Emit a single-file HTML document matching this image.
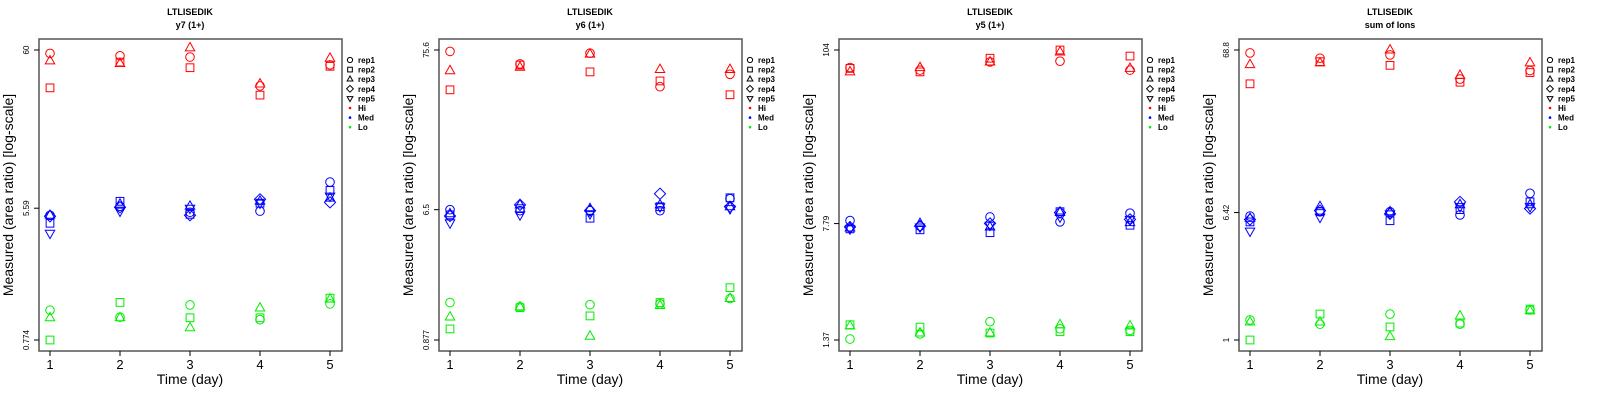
<!DOCTYPE html>
<html><head><meta charset="utf-8"><style>
html,body{margin:0;padding:0;background:#fff;}
svg{display:block;font-family:"Liberation Sans",sans-serif;}
</style></head><body>
<svg id="chart" width="1600" height="400" viewBox="0 0 1600 400"></svg>
<script>
const days = [1,2,3,4,5];
const reps = ["rep1","rep2","rep3","rep4","rep5"];
const levels = ["Hi","Med","Lo"];
const panelTitles = ["y7 (1+)","y6 (1+)","y5 (1+)","sum of Ions"];
const tickTop = [60,75.6,104,68.8];
const tickMid = [5.59,6.5,7.79,6.42];
const tickBot = [0.774,0.877,1.37,1];
// values[panel][level][rep][day]; Hi and Lo only have rep1-rep3
const p1Hi = [[57,55,54,35,48],[34,50,46,30.5,47],[51,49,62,36,53]];
const p1Med = [[5.03,5.76,5.26,5.35,8.27],[4.46,6.2,5.1,6.03,7.3],[5.03,5.94,5.76,6.2,6.5],[4.95,5.67,5.03,6.39,6.1],[3.84,5.35,5.59,6.03,6.7]];
const p1Lo = [[1.21,1.09,1.31,1.05,1.33],[0.774,1.36,1.08,1.08,1.45],[1.08,1.08,0.93,1.25,1.43]];
const p2Hi = [[74,61,72,43,52],[41,60,54,47,38],[55,58,71,56,56]];
const p2Med = [[6.5,6.4,6.4,6.4,7.7],[6.0,6.6,5.7,6.8,7.8],[6.1,7.0,6.6,7.0,6.8],[5.9,7.0,6.4,8.3,6.8],[5.3,6.0,6.1,6.8,6.6]];
const p2Lo = [[1.56,1.46,1.51,1.53,1.66],[1.04,1.44,1.27,1.56,1.96],[1.25,1.46,0.93,1.49,1.66]];
const p3Hi = [[80,77,87,88,77],[79,75,92,104,95],[75,80,87,101,79]];
const p3Med = [[8.15,7.5,8.6,8.0,9.1],[7.2,7.1,6.8,9.3,7.6],[7.3,7.8,7.4,9.2,7.9],[7.4,7.5,7.8,9.2,8.3],[7.2,7.4,7.6,8.6,8.3]];
const p3Lo = [[1.39,1.5,1.8,1.62,1.58],[1.72,1.66,1.52,1.55,1.55],[1.69,1.52,1.52,1.72,1.69]];
const p4Hi = [[65.9,61,64,45,51],[42,58,55,43,49.5],[55.6,57,68.8,47.5,57]];
const p4Med = [[6.1,6.5,6.5,6.2,8.5],[5.6,6.5,5.7,6.7,7.5],[5.9,7.0,6.5,7.2,7.2],[5.8,6.6,6.3,7.5,6.8],[4.9,6.0,6.3,7.0,7.0]];
const p4Lo = [[1.34,1.26,1.46,1.26,1.55],[1.0,1.46,1.21,1.28,1.57],[1.30,1.30,1.05,1.42,1.53]];
const values = [[p1Hi,p1Med,p1Lo],[p2Hi,p2Med,p2Lo],[p3Hi,p3Med,p3Lo],[p4Hi,p4Med,p4Lo]];

const NS="http://www.w3.org/2000/svg";
const svg=document.getElementById('chart');
const colors={Hi:"#ff0000",Med:"#0000ff",Lo:"#00ee00"};
function mk(tag,attrs,parent){const e=document.createElementNS(NS,tag);for(const k in attrs)e.setAttribute(k,attrs[k]);parent.appendChild(e);return e;}
function marker(parent,shape,cx,cy,col,s){
  let e;
  if(shape===0)e=mk('circle',{cx:cx,cy:cy,r:s},parent);
  else if(shape===1)e=mk('rect',{x:cx-s*0.9,y:cy-s*0.9,width:s*1.8,height:s*1.8},parent);
  else if(shape===2)e=mk('polygon',{points:`${cx},${cy-s*1.25} ${cx-s*1.1},${cy+s*0.7} ${cx+s*1.1},${cy+s*0.7}`},parent);
  else if(shape===3)e=mk('polygon',{points:`${cx},${cy-s*1.3} ${cx+s*1.3},${cy} ${cx},${cy+s*1.3} ${cx-s*1.3},${cy}`},parent);
  else e=mk('polygon',{points:`${cx},${cy+s*1.25} ${cx-s*1.1},${cy-s*0.7} ${cx+s*1.1},${cy-s*0.7}`},parent);
  e.setAttribute('fill','none');e.setAttribute('stroke',col);e.setAttribute('stroke-width','1');
  return e;
}
for(let p=0;p<4;p++){
  const ox=p*400;
  const g=mk('g',{transform:`translate(${ox},0)`},svg);
  
  
  const xs=d=>50+(d-1)*70;
  const lt=Math.log(tickTop[p]),lb=Math.log(tickBot[p]);
  const ys=v=>340-(Math.log(v)-lb)/(lt-lb)*290;
  let t=mk('text',{x:190,y:15,'text-anchor':'middle','font-size':'9','font-weight':'bold'},g);t.textContent='LTLISEDIK';
  
  t=mk('text',{x:190,y:28,'text-anchor':'middle','font-size':'9','font-weight':'bold'},g);t.textContent=panelTitles[p];
  
  const box=mk('rect',{x:39,y:39,width:303,height:312,fill:'none',stroke:'#555','stroke-width':'1.5'},g);
  
  const xa=mk('g',{},g);
  
  days.forEach(d=>{
    mk('line',{x1:xs(d),x2:xs(d),y1:351,y2:356,stroke:'#000'},xa);
    const tl=mk('text',{x:xs(d),y:369,'text-anchor':'middle','font-size':'13'},xa);tl.textContent=d;
  });
  const xl=mk('text',{x:190,y:384,'text-anchor':'middle','font-size':'14'},g);xl.textContent='Time (day)';
  
  const ya=mk('g',{},g);
  
  [tickTop[p],tickMid[p],tickBot[p]].forEach(v=>{
    const y=ys(v);
    mk('line',{x1:34,x2:39,y1:y,y2:y,stroke:'#000'},ya);
    const tl=mk('text',{x:0,y:0,'text-anchor':'middle','font-size':'8',transform:`translate(29,${y}) rotate(-90)`},ya);tl.textContent=v;
  });
  const yl=mk('text',{x:0,y:0,'text-anchor':'middle','font-size':'14',transform:'translate(13,195) rotate(-90)'},g);yl.textContent='Measured (area ratio) [log-scale]';
  
  levels.forEach((lv,li)=>{
    const sg=mk('g',{},g);
    
    
    values[p][li].forEach((row,ri)=>{
      days.forEach((d,di)=>{
        const m=marker(sg,ri,xs(d),ys(row[di]),colors[lv],4.3);
        
        
      });
    });
  });
  const lg=mk('g',{},g);
  
  const rows=[...reps,...levels];
  rows.forEach((name,i)=>{
    const y=60+i*9.6;
    const eg=mk('g',{},lg);
    
    
    if(i<5)marker(eg,i,350,y,'#000',2.6);
    else mk('circle',{cx:350,cy:y,r:1.3,fill:colors[name]},eg);
    const tx=mk('text',{x:358,y:y+3,'font-size':'8','font-weight':'bold'},eg);tx.textContent=name;
  });
}
</script>
</body></html>
